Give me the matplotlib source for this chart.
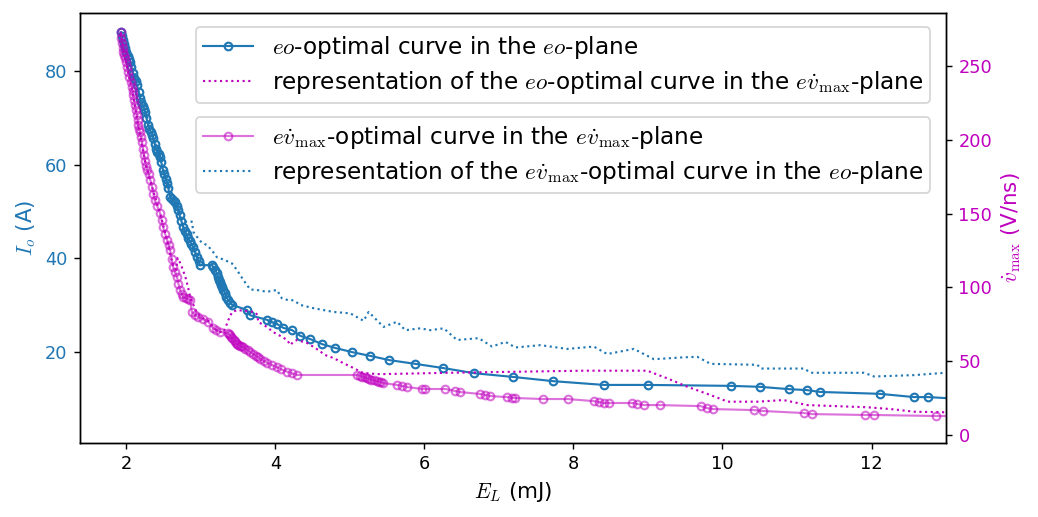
import matplotlib
matplotlib.use("Agg")
import matplotlib.pyplot as plt

plt.rcParams['mathtext.fontset'] = 'cm'
plt.rcParams['font.family'] = ['DejaVu Sans']

# eo-optimal curve in the eo-plane (E_L in mJ, I_o in A)
eo_E = [1.926, 1.94, 1.957, 1.97, 1.984, 2.00, 2.02, 2.035, 2.051, 2.07,
        2.091, 2.11, 2.125, 2.145, 2.165, 2.185, 2.20, 2.22, 2.235, 2.253,
        2.27, 2.293, 2.31, 2.33, 2.345, 2.360, 2.38, 2.40, 2.414, 2.435,
        2.454, 2.47, 2.494, 2.51, 2.53, 2.548, 2.565, 2.588, 2.61, 2.635,
        2.655, 2.675, 2.696, 2.715, 2.74, 2.763, 2.785, 2.81, 2.830, 2.85,
        2.875, 2.897, 2.92, 2.951, 2.97, 2.991, 3.152, 3.17, 3.193, 3.213,
        3.233, 3.247, 3.260, 3.275, 3.287, 3.305, 3.327, 3.345, 3.367, 3.395,
        3.421, 3.622, 3.663, 3.891, 3.958, 4.026, 4.106, 4.227, 4.335, 4.469,
        4.631, 4.805, 5.033, 5.275, 5.531, 5.880, 6.256, 6.672, 7.196, 7.733,
        8.41, 8.995, 10.11, 10.50, 10.89, 11.13, 11.31, 12.11, 12.57, 12.76,
        13.2]
eo_I = [88.3, 87.5, 86.6, 85.8, 84.9, 84.0, 83.2, 82.5, 81.9, 80.8,
        79.6, 78.6, 77.9, 77.0, 75.6, 74.2, 73.4, 72.6, 71.9, 71.2,
        70.0, 68.5, 67.7, 66.9, 66.3, 65.7, 64.5, 63.4, 62.7, 62.2,
        61.6, 60.5, 58.8, 58.0, 56.9, 56.1, 54.9, 53.1, 52.6, 52.3,
        52.0, 51.2, 50.3, 49.2, 47.9, 46.7, 45.9, 45.1, 44.3, 43.7,
        43.0, 42.4, 41.4, 40.2, 39.3, 38.5, 38.5, 38.0, 37.5, 36.8,
        36.0, 35.4, 34.9, 34.3, 33.8, 33.2, 32.5, 31.8, 31.0, 30.5,
        30.0, 28.9, 27.8, 26.8, 26.3, 25.9, 25.1, 24.6, 23.4, 22.7,
        21.6, 20.8, 19.9, 19.1, 18.2, 17.4, 16.5, 15.4, 14.6, 13.7,
        12.9, 12.9, 12.7, 12.5, 12.0, 11.8, 11.4, 11.0, 10.3, 10.3,
        9.9]

# eo-optimal curve represented in the e-vdot-plane (E_L in mJ, vdot_max in V/ns)
eo_rep_E = [1.926, 2.011, 2.091, 2.158, 2.253, 2.347, 2.454, 2.548, 2.629, 2.67,
            2.69, 2.72, 2.76, 2.80, 2.83, 2.86, 2.93, 3.00, 3.12, 3.17,
            3.26, 3.30, 3.33, 3.37, 3.42, 3.49, 3.73, 3.76, 3.77, 3.89,
            3.97, 4.07, 4.16, 4.20, 4.24, 4.29, 4.43, 4.54, 4.67, 4.78,
            4.91, 5.05, 5.18, 5.37, 5.45, 6.35, 7.25, 8.14, 8.99, 9.26,
            9.53, 9.84, 10.07, 10.47, 10.82, 11.14, 11.95, 12.30, 12.57, 13.0]
eo_rep_V = [272.8, 249.3, 230.4, 210.0, 184.9, 168.0, 150.4, 132.1, 113.8, 112.0,
            119.9, 117.0, 112.0, 106.0, 100.0, 93.0, 84.7, 80.0, 76.8, 72.3,
            70.0, 69.5, 72.5, 77.9, 83.3, 84.7, 83.3, 81.3, 76.6, 73.2,
            69.8, 67.1, 64.4, 61.0, 63.0, 64.4, 62.3, 58.9, 54.2, 52.2,
            48.8, 45.4, 42.0, 41.3, 41.3, 42.2, 42.9, 43.6, 43.6, 38.4,
            32.7, 27.1, 22.6, 22.6, 23.7, 20.3, 18.8, 17.4, 15.8, 15.4]

# e-vdot-optimal curve in the e-vdot-plane
ev_E = [1.926, 1.933, 1.940, 1.95, 1.957, 1.97, 1.984, 2.00, 2.011, 2.025,
        2.038, 2.058, 2.078, 2.085, 2.091, 2.105, 2.118, 2.13, 2.145, 2.152,
        2.158, 2.17, 2.185, 2.20, 2.212, 2.225, 2.240, 2.255, 2.270, 2.285,
        2.300, 2.325, 2.347, 2.365, 2.380, 2.415, 2.454, 2.475, 2.494, 2.52,
        2.548, 2.57, 2.588, 2.61, 2.629, 2.655, 2.682, 2.70, 2.723, 2.745,
        2.763, 2.80, 2.83, 2.857, 2.880, 2.92, 2.964, 3.03, 3.099, 3.166,
        3.21, 3.260, 3.367, 3.38, 3.395, 3.41, 3.42, 3.44, 3.455, 3.47,
        3.48, 3.50, 3.52, 3.545, 3.569, 3.60, 3.63, 3.663, 3.70, 3.74,
        3.770, 3.80, 3.85, 3.891, 3.95, 4.026, 4.08, 4.160, 4.22, 4.294,
        5.100, 5.141, 5.17, 5.20, 5.23, 5.26, 5.29, 5.33, 5.36, 5.39,
        5.42, 5.450, 5.638, 5.705, 5.772, 5.974, 6.014, 6.283, 6.417, 6.484,
        6.753, 6.820, 6.887, 7.115, 7.182, 7.223, 7.586, 7.921, 8.271, 8.337,
        8.41, 8.471, 8.793, 8.860, 8.941, 9.156, 9.707, 9.789, 9.869, 10.43,
        10.54, 11.09, 11.20, 11.91, 12.03, 12.86, 13.2]
ev_V = [272.8, 269.0, 265.6, 262.5, 259.5, 257.5, 255.4, 252.5, 249.3, 246.0,
        242.5, 239.0, 235.8, 233.0, 230.4, 227.0, 223.6, 220.0, 216.8, 213.5,
        210.0, 207.5, 205.3, 202.0, 198.5, 194.0, 189.7, 186.0, 182.0, 179.5,
        177.0, 172.5, 168.0, 163.5, 159.2, 155.0, 150.4, 145.5, 140.9, 136.5,
        132.1, 128.5, 125.3, 119.5, 113.8, 110.5, 107.0, 102.5, 98.2, 95.8,
        93.5, 92.8, 92.0, 91.5, 83.5, 81.5, 80.1, 78.5, 76.8, 72.5,
        71.0, 70.0, 68.9, 68.2, 67.5, 66.6, 65.8, 64.5, 63.5, 62.6,
        62.0, 61.2, 60.5, 60.0, 59.6, 58.5, 57.3, 56.4, 55.0, 53.8,
        52.6, 51.5, 50.2, 49.0, 47.5, 45.9, 44.5, 42.9, 41.8, 40.7,
        40.7, 40.0, 39.5, 39.0, 38.5, 38.0, 37.5, 37.0, 36.6, 36.2,
        35.7, 35.2, 33.9, 33.2, 32.5, 31.2, 31.2, 31.2, 29.8, 29.1,
        27.8, 27.1, 26.4, 25.7, 25.1, 25.1, 24.4, 24.4, 23.0, 22.4,
        21.7, 21.7, 21.7, 21.0, 20.3, 20.3, 19.6, 18.3, 17.6, 16.9,
        16.3, 14.9, 14.2, 13.6, 13.6, 12.9, 12.9]

# e-vdot-optimal curve represented in the eo-plane
ev_rep_E = [1.926, 1.957, 2.05, 2.091, 2.118, 2.145, 2.253, 2.33, 2.42, 2.50,
            2.58, 2.65, 2.70, 2.76, 2.880, 2.901, 2.947, 3.014, 3.081, 3.148,
            3.216, 3.304, 3.417, 3.484, 3.573, 3.663, 3.753, 3.887, 4.022, 4.089,
            4.177, 4.245, 4.335, 4.513, 4.782, 5.006, 5.185, 5.252, 5.453, 5.633,
            5.745, 5.946, 6.081, 6.260, 6.439, 6.729, 6.909, 7.088, 7.222, 7.558,
            7.917, 8.274, 8.454, 8.811, 9.080, 9.483, 9.663, 9.842, 10.469, 10.513,
            11.095, 11.185, 11.900, 12.035, 12.572, 12.998]
ev_rep_I = [88.3, 84.1, 82.5, 81.7, 79.8, 76.6, 71.7, 67.5, 63.0, 59.0,
            55.0, 52.5, 50.3, 47.8, 47.8, 45.6, 44.6, 43.3, 42.8, 41.7,
            40.2, 39.7, 38.9, 37.5, 35.3, 33.3, 33.2, 32.8, 33.2, 31.4,
            31.0, 31.0, 30.0, 29.3, 28.5, 28.2, 26.6, 28.5, 25.3, 26.4,
            24.6, 25.0, 24.6, 25.0, 22.5, 22.9, 21.1, 22.1, 20.9, 21.4,
            20.6, 21.1, 19.5, 20.6, 18.4, 18.8, 18.9, 17.4, 17.2, 16.4,
            16.4, 15.5, 15.5, 14.7, 15.0, 15.5]

blue = 'tab:blue'
mag = 'm'

fig = plt.figure(figsize=(1038 / 128, 517 / 128), dpi=128)
ax = fig.add_axes([0.0771, 0.1437, 0.8343, 0.8312])
ax2 = ax.twinx()

l1, = ax.plot(eo_E, eo_I, '-o', color=blue, lw=1.2, ms=4.3, mfc='none', mew=1.2)
l4, = ax.plot(ev_rep_E, ev_rep_I, ':', color=blue, lw=1.2)
l2, = ax2.plot(eo_rep_E, eo_rep_V, ':', color=mag, lw=1.2)
l3, = ax2.plot(ev_E, ev_V, '-o', color=mag, lw=1.2, ms=4.3, mfc='none', mew=1.2,
               alpha=0.55)

ax.set_xlim(1.38, 13.0)
ax.set_ylim(0.55, 92.4)
ax2.set_ylim(-5.2, 286)

ax.set_xlabel(r'$E_L$ (mJ)', fontsize=12)
ax.set_ylabel(r'$I_o$ (A)', fontsize=12, color=blue)
ax2.set_ylabel(r'$\dot{v}_\mathrm{max}$ (V/ns)', fontsize=12, color=mag)
ax.tick_params(axis='y', labelcolor=blue, labelsize=10)
ax.tick_params(axis='x', labelsize=10)
ax2.tick_params(axis='y', labelcolor=mag, labelsize=10)
ax.set_xticks([2, 4, 6, 8, 10, 12])
ax.set_yticks([20, 40, 60, 80])

leg_kw = dict(loc='upper right', borderaxespad=0, fontsize=13,
              labelspacing=0.35, handlelength=2.2, borderpad=0.3)
leg1 = ax2.legend([l1, l2],
                  [r'$eo$-optimal curve in the $eo$-plane',
                   r'representation of the $eo$-optimal curve in the $e\dot{v}_\mathrm{max}$-plane'],
                  bbox_to_anchor=(0.982, 0.967), **leg_kw)
ax2.add_artist(leg1)
ax2.legend([l3, l4],
           [r'$e\dot{v}_\mathrm{max}$-optimal curve in the $e\dot{v}_\mathrm{max}$-plane',
            r'representation of the $e\dot{v}_\mathrm{max}$-optimal curve in the $eo$-plane'],
           bbox_to_anchor=(0.982, 0.758), **leg_kw)

fig.savefig('out.png', dpi=128)
